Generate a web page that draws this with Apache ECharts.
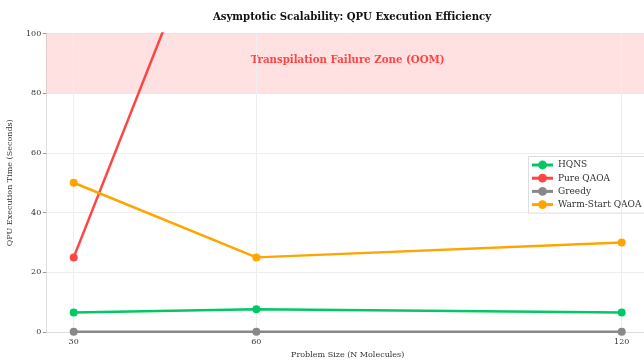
<!DOCTYPE html>
<html>
<head>
<meta charset="utf-8">
<script src="https://cdn.jsdelivr.net/npm/echarts@6/dist/echarts.min.js"></script>
<style>html,body{margin:0;padding:0;background:#fff}#c{width:644px;height:363px}</style>
</head>
<body>
<div id="c"></div>
<script>
const problemSizes = [30, 60, 120];
const hqnsTimes = [6.5, 7.6, 6.5];
const pureQaoaTimes = [25, 180, null];
const greedyTimes = [0.1, 0.1, 0.1];
const warmStartTimes = [50, 25, 30];
const seriesNames = ['HQNS', 'Pure QAOA', 'Greedy', 'Warm-Start QAOA'];
const seriesColors = ['#00c864', '#ff4444', '#888888', '#ffa500'];
const yTickValues = [0, 20, 40, 60, 80, 100];
const oomZone = [80, 100];
const oomLabel = 'Transpilation Failure Zone (OOM)';

const FONT = 'DejaVu Serif';
const pairs = vals => problemSizes.map((x, i) => [x, vals[i]]);
const allVals = [hqnsTimes, pureQaoaTimes, greedyTimes, warmStartTimes];

const chart = echarts.init(document.getElementById('c'), null, {renderer: 'canvas'});
const series = seriesNames.map((name, k) => ({
  name, type: 'line', data: pairs(allVals[k]),
  symbol: 'circle', symbolSize: 8, showSymbol: true,
  lineStyle: {width: 2.5, color: seriesColors[k]},
  itemStyle: {color: seriesColors[k]},
  connectNulls: false, clip: true, z: 5 + k, animation: false
}));
series.unshift({
  name: '_bg', type: 'line', data: [], silent: true, z: 1, animation: false,
  markArea: {
    silent: true,
    itemStyle: {color: 'rgba(255,70,70,0.16)'},
    label: {show: true, position: 'inside', color: '#ff4444', fontFamily: FONT, fontWeight: 'bold', fontSize: 10.2, offset: [0, -3]},
    data: [[{name: oomLabel, yAxis: oomZone[0], xAxis: 'min'}, {yAxis: oomZone[1], xAxis: 'max'}]]
  },
  markLine: {
    silent: true, symbol: 'none', label: {show: false},
    lineStyle: {color: '#eeeeee', width: 1, type: 'solid'},
    data: problemSizes.map(v => ({xAxis: v}))
  }
});

chart.setOption({
  animation: false,
  backgroundColor: '#fff',
  title: {
    text: 'Asymptotic Scalability: QPU Execution Efficiency',
    left: 347, top: 7, textAlign: 'center',
    textStyle: {fontFamily: FONT, fontWeight: 'bold', fontSize: 10.15, color: '#111'}
  },
  legend: {
    data: seriesNames.map(n => ({name: n, itemStyle: {}, lineStyle: {width: 3}})),
    orient: 'vertical', left: 528.5, top: 156.5,
    backgroundColor: '#fff', borderColor: '#dddddd', borderWidth: 1,
    padding: [4, 4, 4, 2], itemGap: 4.2, itemWidth: 21, itemHeight: 11,
    textStyle: {fontFamily: FONT, fontSize: 9, color: '#333'}
  },
  grid: {left: 46.3, top: 33.5, width: 602.8, height: 298.5, containLabel: false, outerBoundsMode: 'none'},
  xAxis: {
    type: 'value', min: 25.5, max: 124.5, offset: 2,
    name: 'Problem Size (N Molecules)', nameLocation: 'middle', nameGap: 15,
    nameTextStyle: {fontFamily: FONT, fontSize: 8, color: '#333'},
    axisLine: {show: true, lineStyle: {color: '#dddddd'}},
    axisTick: {show: true, customValues: problemSizes, length: 3, lineStyle: {color: '#999'}},
    axisLabel: {customValues: problemSizes, fontFamily: FONT, fontSize: 8, color: '#333', margin: 4},
    splitLine: {show: false}
  },
  yAxis: {
    type: 'value', min: 0, max: 100, interval: 20,
    name: 'QPU Execution Time (Seconds)', nameLocation: 'middle', nameGap: 32,
    nameTextStyle: {fontFamily: FONT, fontSize: 8, color: '#333'},
    axisLine: {show: true, lineStyle: {color: '#dddddd'}},
    axisTick: {show: true, length: 3.5, lineStyle: {color: '#999'}},
    axisLabel: {fontFamily: FONT, fontSize: 8, color: '#333', margin: 5},
    splitLine: {show: true, lineStyle: {color: '#eeeeee', width: 1}}
  },
  series
});
</script>
</body>
</html>
